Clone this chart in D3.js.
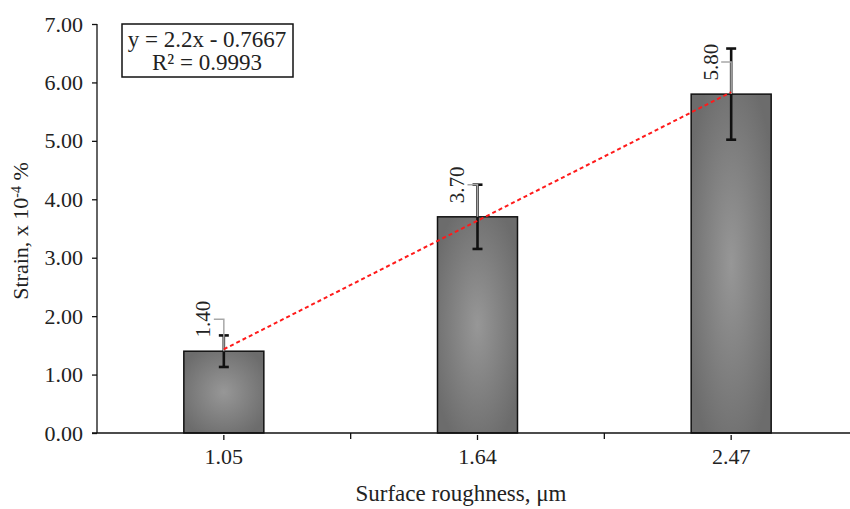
<!DOCTYPE html>
<html>
<head>
<meta charset="utf-8">
<script src="https://cdn.jsdelivr.net/npm/d3@7"></script>
<style>
  body { margin: 0; background: #fff; }
  text { font-family: "Liberation Serif", "Times New Roman", serif; fill: #222; }
</style>
</head>
<body>
<div id="chart"></div>
<script>
  // data
  const categories = ["1.05", "1.64", "2.47"];
  const strainValues = [1.4, 3.7, 5.8];
  const errorValues = [0.27, 0.55, 0.78];
  const yTicks = [0, 1, 2, 3, 4, 5, 6, 7];
  const trendSlope = 2.2;
  const trendIntercept = -0.7667;
  const equationLines = ["y = 2.2x - 0.7667", "R\u00b2 = 0.9993"];

  const w = 850, h = 509;
  const mLeft = 97, mRight = 858, mTop = 24, mBottom = 433;

  const svg = d3.select("#chart").append("svg").attr("width", w).attr("height", h);

  const grad = svg.append("defs").append("radialGradient").attr("id", "barGrad")
    .attr("cx", "50%").attr("cy", "50%").attr("r", "60%");
  grad.append("stop").attr("offset", "0%").attr("stop-color", "#979797");
  grad.append("stop").attr("offset", "100%").attr("stop-color", "#6c6c6c");

  let x = d3.scaleBand().domain(categories).range([mLeft, mRight]).paddingInner(0).paddingOuter(0);
  let y = d3.scaleLinear().domain([0, 7]).range([mBottom, mTop]);
  let barW = 80;

  // bars
  svg.selectAll(".bar").data(strainValues).enter().append("rect")
    .attr("x", (d, i) => x(categories[i]) + x.bandwidth() / 2 - barW / 2)
    .attr("y", d => y(d))
    .attr("width", barW)
    .attr("height", d => y(0) - y(d))
    .attr("fill", "url(#barGrad)")
    .attr("stroke", "#111").attr("stroke-width", 1.5);

  // y axis
  let yAxis = svg.append("g").attr("transform", "translate(" + mLeft + ",0)")
    .call(d3.axisLeft(y).tickValues(yTicks).tickFormat(d3.format(".2f")).tickSize(5).tickPadding(9));
  yAxis.selectAll("text").style("font-size", "22px").style("font-family", "Liberation Serif")
    .attr("fill", "#222");
  yAxis.selectAll("line, path").attr("stroke", "#111").attr("stroke-width", 1.3);
  yAxis.select(".domain").attr("d", "M0," + mTop + "V" + mBottom);

  // x axis
  svg.append("line").attr("x1", mLeft - 5).attr("x2", w).attr("y1", mBottom).attr("y2", mBottom)
    .attr("stroke", "#111").attr("stroke-width", 1.3);
  categories.forEach(function (c, i) {
    let bx = x(c);
    if (i > 0) {
      svg.append("line").attr("x1", bx).attr("x2", bx).attr("y1", mBottom).attr("y2", mBottom + 6)
        .attr("stroke", "#111").attr("stroke-width", 1.3);
    }
    let cx = bx + x.bandwidth() / 2;
    svg.append("line").attr("x1", cx).attr("x2", cx).attr("y1", mBottom + 2).attr("y2", mBottom + 7)
      .attr("stroke", "#111").attr("stroke-width", 1.3);
    svg.append("text").attr("x", cx).attr("y", mBottom + 31).attr("text-anchor", "middle")
      .style("font-size", "22px").text(c);
  });

  // error bars
  strainValues.forEach(function (v, i) {
    let cx = x(categories[i]) + x.bandwidth() / 2;
    let e = errorValues[i];
    let g = svg.append("g").attr("stroke", "#111").attr("stroke-width", 2.6);
    g.append("line").attr("x1", cx).attr("x2", cx).attr("y1", y(v + e)).attr("y2", y(v - e));
    g.append("line").attr("x1", cx - 5).attr("x2", cx + 5).attr("y1", y(v + e)).attr("y2", y(v + e));
    g.append("line").attr("x1", cx - 5).attr("x2", cx + 5).attr("y1", y(v - e)).attr("y2", y(v - e));

    // label leader
    let ly = y(v) - 32;
    svg.append("path").attr("d", "M" + cx + "," + y(v) + "V" + ly + "H" + (cx - 10))
      .attr("fill", "none").attr("stroke", "#a8a8a8").attr("stroke-width", 1.5);
    svg.append("text").attr("transform", "translate(" + (cx - 21) + "," + ly + ") rotate(-90)")
      .attr("text-anchor", "middle").attr("dy", "0.35em").style("font-size", "21px")
      .text(d3.format(".2f")(v));
  });

  // trendline
  let tx1 = x(categories[0]) + x.bandwidth() / 2, tx2 = x(categories[2]) + x.bandwidth() / 2;
  svg.append("line").attr("x1", tx1).attr("y1", y(trendSlope * 1 + trendIntercept))
    .attr("x2", tx2).attr("y2", y(trendSlope * 3 + trendIntercept))
    .attr("stroke", "#ff1a1a").attr("stroke-width", 2).attr("stroke-dasharray", "4,3");

  // equation box
  svg.append("rect").attr("x", 122).attr("y", 24).attr("width", 171).attr("height", 53)
    .attr("fill", "#fff").attr("stroke", "#111").attr("stroke-width", 1.5);
  equationLines.forEach(function (t, i) {
    svg.append("text").attr("x", 207).attr("y", 47 + i * 23).attr("text-anchor", "middle")
      .style("font-size", "23px").text(t);
  });

  // axis titles
  svg.append("text").attr("transform", "translate(28,231) rotate(-90)").attr("text-anchor", "middle")
    .style("font-size", "22px")
    .html('Strain, x 10<tspan baseline-shift="super" font-size="14px">-4</tspan> %');
  svg.append("text").attr("x", 461).attr("y", 501).attr("text-anchor", "middle")
    .style("font-size", "23px")
    .text("Surface roughness, \u03bcm");
</script>
</body>
</html>
